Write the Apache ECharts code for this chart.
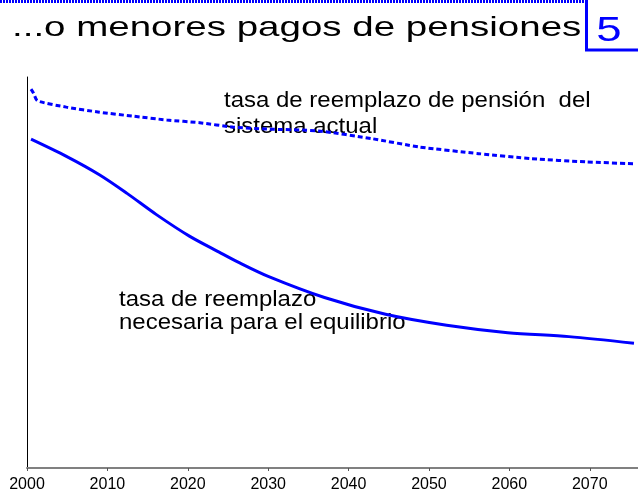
<!DOCTYPE html>
<html>
<head>
<meta charset="utf-8">
<script src="https://cdn.jsdelivr.net/npm/echarts@6/dist/echarts.min.js"></script>
<style>html,body{margin:0;padding:0;background:#fff;}#c{width:638px;height:493px;}</style>
</head>
<body>
<div id="c"></div>
<script>
// ---- data ----
const titleText = '...o menores pagos de pensiones';
const pageNumber = '5';
const xTicks = [2000, 2010, 2020, 2030, 2040, 2050, 2060, 2070];
const currentLabel = ['tasa de reemplazo de pensión  del', 'sistema actual'];
const equilibriumLabel = ['tasa de reemplazo', 'necesaria para el equilibrio'];

const currentYears  = [2000.5, 2000.8, 2001.3, 2004.9, 2009.0, 2013.1, 2017.4, 2021.5, 2025.6, 2029.8, 2036.3, 2043.0, 2048.8, 2056.2, 2062.8, 2069.5, 2075.5];
const currentValues = [96.9, 95.9, 93.9, 92.3, 91.0, 90.0, 89.0, 88.3, 87.2, 86.7, 86.2, 84.2, 82.1, 80.4, 79.1, 78.3, 77.8];

const equilibriumYears  = [2000.5, 2004.9, 2009.0, 2012.4, 2016.1, 2020.2, 2023.9, 2026.2, 2030.0, 2037.0, 2044.6, 2052.2, 2059.8, 2067.4, 2075.5];
const equilibriumValues = [84.1, 79.7, 75.0, 70.3, 64.8, 59.3, 55.2, 52.7, 49.0, 43.6, 39.3, 36.5, 34.6, 33.6, 31.9];

const pairs = (xs, ys) => xs.map((x, i) => [x, ys[i]]);

const chart = echarts.init(document.getElementById('c'), null, {renderer: 'canvas'});
const BLUE = '#0000ff';
const FONT = '"Liberation Sans", Arial, sans-serif';

chart.setOption({
  animation: false,
  backgroundColor: '#fff',
  grid: {left: 27, right: 0, top: 77, bottom: 24, containLabel: false},
  xAxis: {
    type: 'value',
    min: xTicks[0],
    max: 2076,
    interval: 10,
    axisLine: {show: true, lineStyle: {color: '#808080', width: 2}},
    axisTick: {show: true, length: 3, lineStyle: {color: '#555', width: 1}},
    splitLine: {show: false},
    axisLabel: {
      showMaxLabel: false,
      margin: 9,
      color: '#000',
      fontSize: 16,
      fontFamily: '"Liberation Sans Narrow", "Arial Narrow", "Liberation Sans", sans-serif',
      formatter: v => (xTicks.indexOf(v) >= 0 ? String(v) : '')
    }
  },
  yAxis: {
    type: 'value',
    min: 0,
    max: 100,
    axisLine: {show: true, lineStyle: {color: '#000', width: 1}},
    axisTick: {show: false},
    axisLabel: {show: false},
    splitLine: {show: false}
  },
  series: [
    {
      type: 'line',
      data: pairs(currentYears, currentValues),
      showSymbol: false,
      smooth: 0.2,
      lineStyle: {color: BLUE, width: 3, type: [5, 3]}
    },
    {
      type: 'line',
      data: pairs(equilibriumYears, equilibriumValues),
      showSymbol: false,
      smooth: 0.3,
      lineStyle: {color: BLUE, width: 3}
    }
  ],
  graphic: [
    {type: 'line', shape: {x1: 0, y1: 1.5, x2: 586, y2: 1.5}, style: {stroke: BLUE, lineWidth: 3, lineDash: [2, 1]}},
    {type: 'rect', shape: {x: 586.5, y: -3, width: 60, height: 53}, style: {fill: 'none', stroke: BLUE, lineWidth: 3}},
    {type: 'text', x: 609, y: 31, scaleX: 1.3, style: {text: pageNumber, x: 0, y: 0, fill: BLUE, font: '35px ' + FONT, align: 'center', verticalAlign: 'middle', textAlign: 'center', textVerticalAlign: 'middle'}},
    {type: 'text', x: 12, y: 28, scaleX: 1.375, style: {text: titleText, x: 0, y: 0, fill: '#000', font: '28px ' + FONT, align: 'left', verticalAlign: 'middle', textAlign: 'left', textVerticalAlign: 'middle'}},
    {type: 'text', x: 224, y: 101, scaleX: 1.09, style: {text: currentLabel[0], x: 0, y: 0, fill: '#000', font: '22px ' + FONT, align: 'left', verticalAlign: 'middle', textAlign: 'left', textVerticalAlign: 'middle'}},
    {type: 'text', x: 224, y: 127, scaleX: 1.09, style: {text: currentLabel[1], x: 0, y: 0, fill: '#000', font: '22px ' + FONT, align: 'left', verticalAlign: 'middle', textAlign: 'left', textVerticalAlign: 'middle'}},
    {type: 'text', x: 119, y: 300, scaleX: 1.09, style: {text: equilibriumLabel[0], x: 0, y: 0, fill: '#000', font: '22px ' + FONT, align: 'left', verticalAlign: 'middle', textAlign: 'left', textVerticalAlign: 'middle'}},
    {type: 'text', x: 119, y: 323, scaleX: 1.09, style: {text: equilibriumLabel[1], x: 0, y: 0, fill: '#000', font: '22px ' + FONT, align: 'left', verticalAlign: 'middle', textAlign: 'left', textVerticalAlign: 'middle'}}
  ]
});
</script>
</body>
</html>
